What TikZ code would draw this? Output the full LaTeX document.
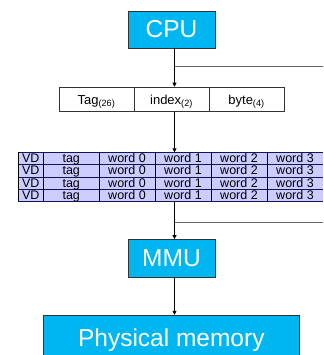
\documentclass[tikz,border=0pt]{standalone}
\usepackage{fontspec}
\setmainfont{Liberation Sans}
\usetikzlibrary{arrows.meta}
\definecolor{boxcyan}{RGB}{0,182,240}
\definecolor{rowline}{RGB}{20,20,90}
\definecolor{cachefill}{RGB}{204,204,255}
\newcommand{\busx}{174.5}
\tikzset{
  unit/.style={draw=black!80, fill=boxcyan, text=white, inner sep=0pt,
    font=\fontsize{24.5}{28}\selectfont},
  field/.style={draw=black!80, minimum width=75, minimum height=24.7, inner sep=0pt,
    text height=9.5pt, text depth=0pt, font=\fontsize{13}{15}\selectfont},
  entry/.style={inner sep=0pt, anchor=base, font=\fontsize{12.5}{14}\selectfont},
  bus/.style={-{Triangle[length=4pt,width=4pt]}, line width=0.8pt},
  tap/.style={draw=black!60, line width=0.8pt}
}

\begin{document}
\begin{tikzpicture}[x=1pt,y=-1pt]
\clip (0,0) rectangle (323,355);
\coordinate (bus) at (\busx,0);

% processor and address fields
\node[unit, minimum width=87, minimum height=37.3] (cpu) at (171.5,29.4) {CPU};
\node[field] (tagf) at (96.5,99.3) {Tag\textsubscript{(26)}};
\node[field] (idxf) at (171.5,99.3) {index\textsubscript{(2)}};
\node[field] (bytef) at (246.5,99.3) {byte\textsubscript{(4)}};
\draw[bus] (cpu.south -| bus) -- (idxf.north -| bus);
\coordinate (tap1) at (\busx,66.7);
\coordinate (edge1) at (323,66.7);
\draw[tap] (tap1) -- (edge1);

% cache lines
\coordinate (cache-top) at (18,152.3);
\coordinate (cache-bot) at (18,201.1);
\fill[cachefill] (cache-top) rectangle (323,201.1);
\foreach \y in {152.3,164.5,176.7,188.9,201.1}
  \draw[rowline] (18,\y) -- (323,\y);
\foreach \x in {18,43.5,99,155,211,267}
  \draw (\x,152.3) -- (\x,201.1);
\foreach \r in {1,...,4} {
  \node[entry] (vd\r) at (30.75,{150.5+12.2*\r}) {VD};
  \node[entry] (tg\r) at (71.25,{150.5+12.2*\r}) {tag};
  \foreach \c in {0,...,3}
    \node[entry] (w\c-\r) at ({127+56*\c},{150.5+12.2*\r}) {word \c};
}
\draw[bus] (idxf.south -| bus) -- (cache-top -| bus);

% translation and memory
\node[unit, minimum width=87, minimum height=38] (mmu) at (171.5,258.3) {MMU};
\node[unit, minimum width=256, minimum height=46, text height=17.5pt, text depth=0pt] (phys) at (171.3,338) {Physical memory};
\draw[bus] (cache-bot -| bus) -- (mmu.north -| bus);
\coordinate (tap2) at (\busx,222.3);
\coordinate (edge2) at (323,222.3);
\draw[tap] (tap2) -- (edge2);
\draw[bus] (mmu.south -| bus) -- (phys.north -| bus);
\end{tikzpicture}
\end{document}
